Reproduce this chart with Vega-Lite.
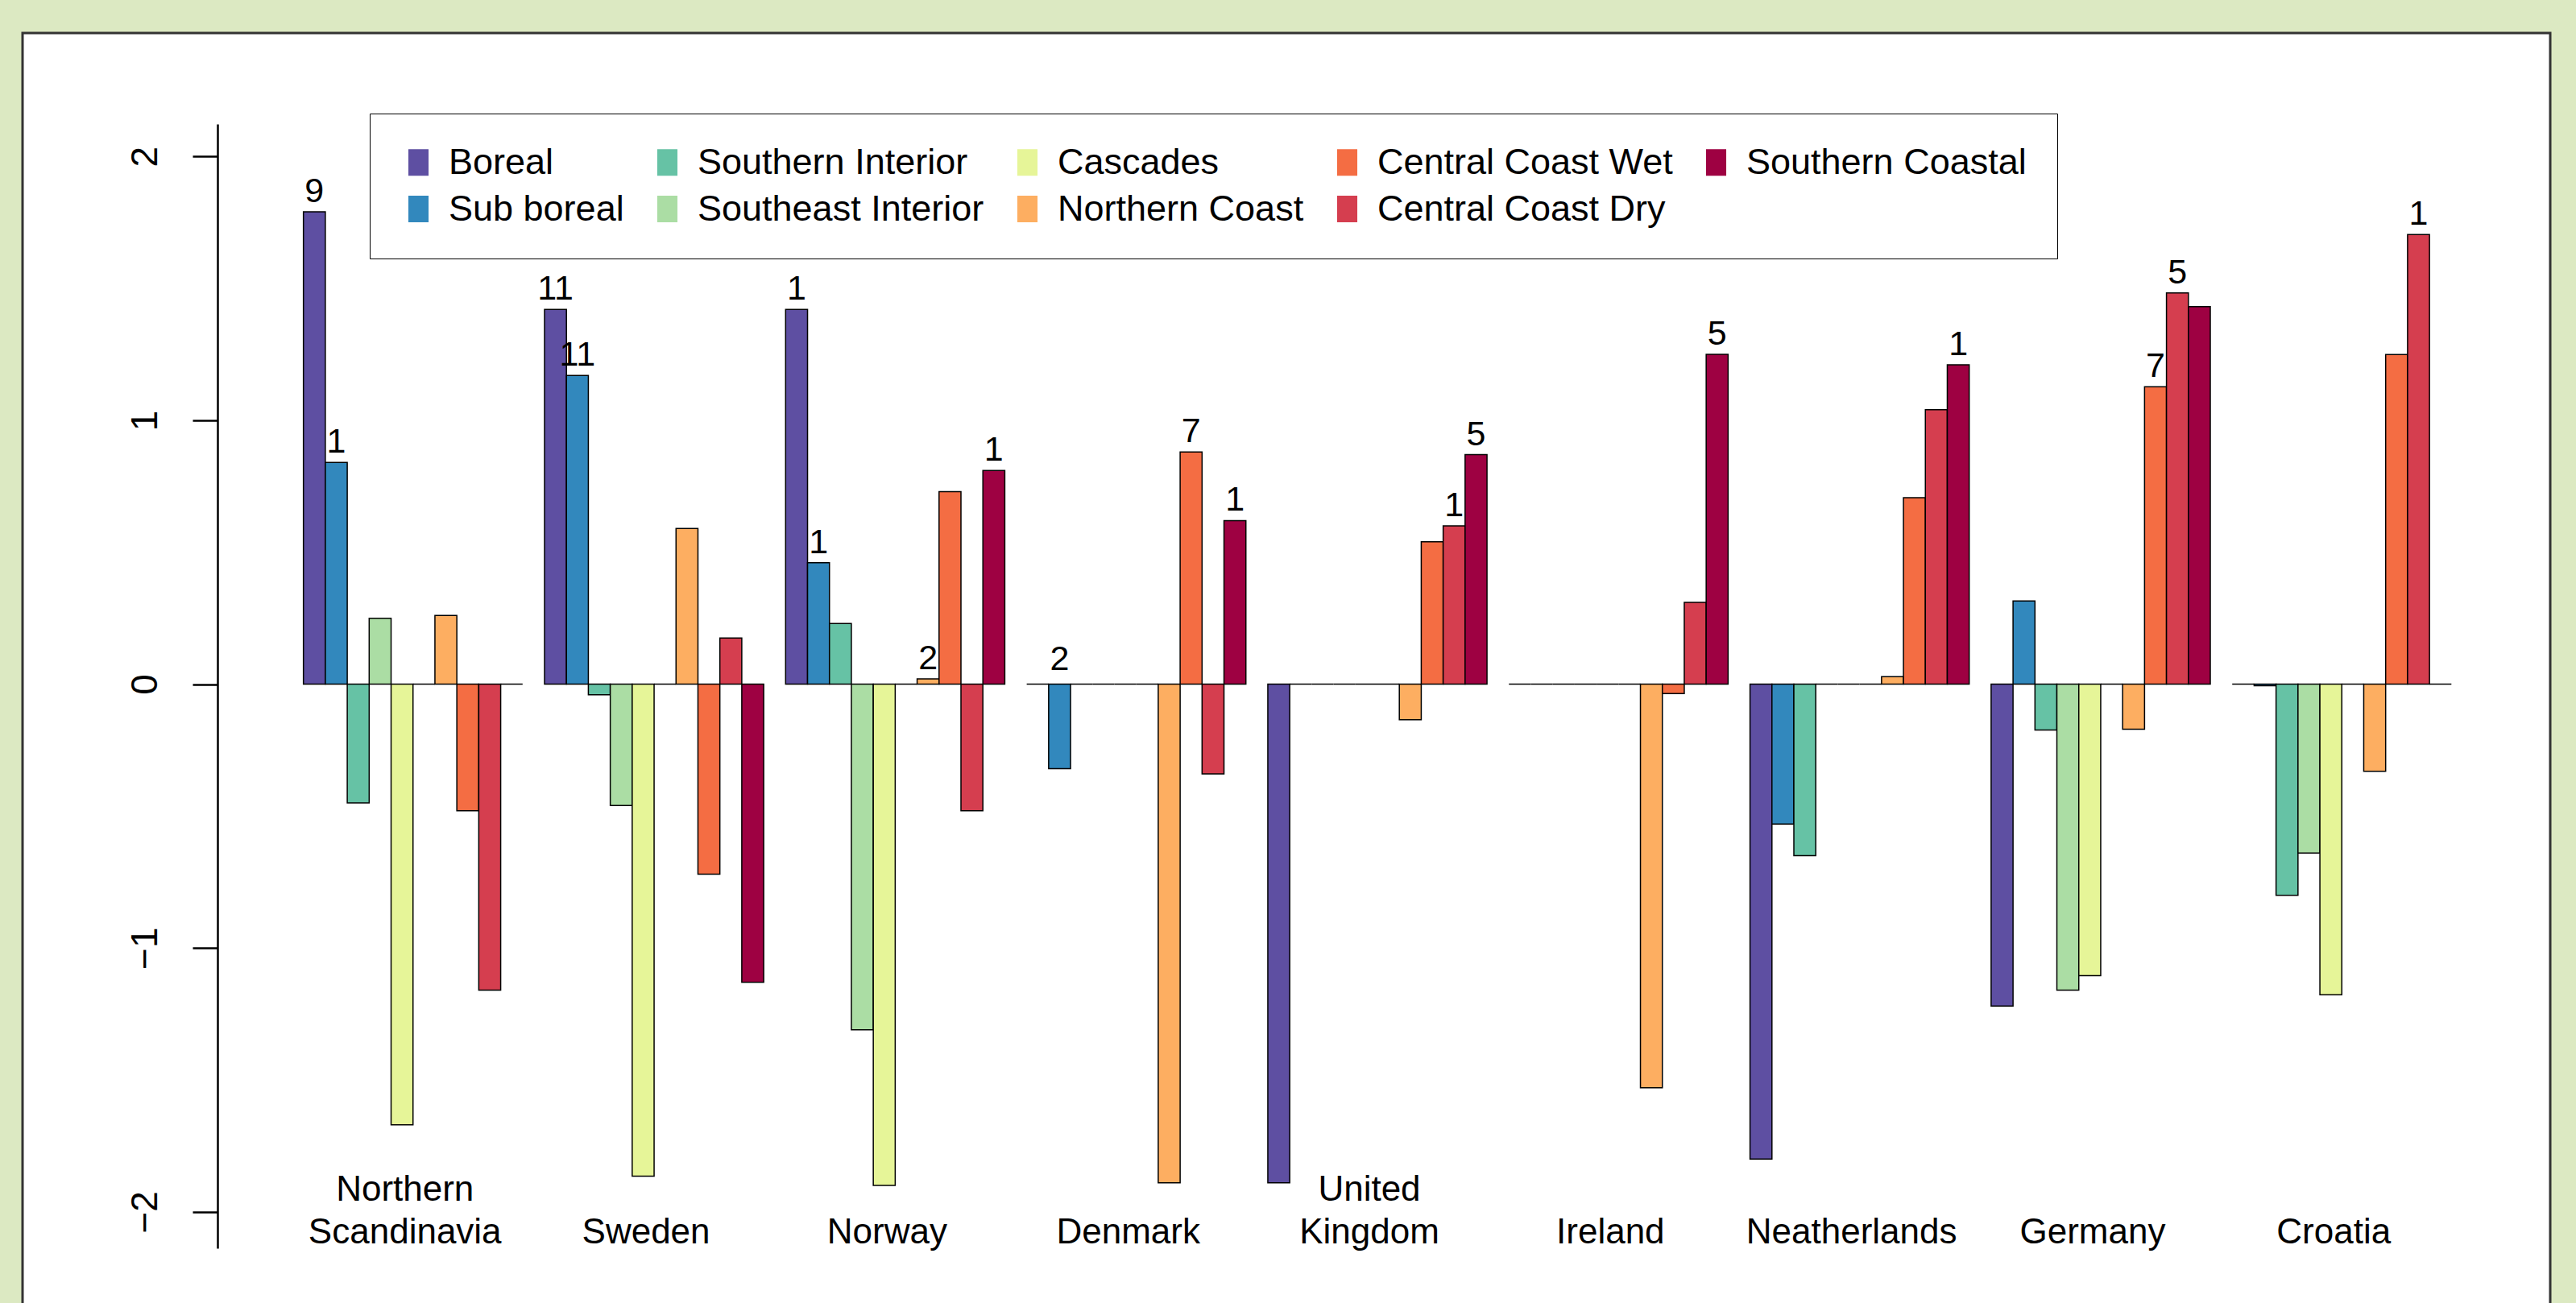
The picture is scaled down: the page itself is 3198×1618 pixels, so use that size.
{
  "$schema": "https://vega.github.io/schema/vega-lite/v6.json",
  "width": 3138,
  "height": 1600,
  "autosize": {"type": "none"},
  "padding": {"left": 28, "top": 41, "right": 32, "bottom": -23},
  "background": "#dce9c2",
  "view": {"fill": "white", "stroke": "#333333", "strokeWidth": 3},
  "config": {"font": "Liberation Sans", "text": {"font": "Liberation Sans"}},
  "data": {
    "values": [
      {"country": "Northern Scandinavia", "zone": "Boreal", "value": 1.79, "label": "9"},
      {"country": "Northern Scandinavia", "zone": "Sub boreal", "value": 0.84, "label": "1"},
      {"country": "Northern Scandinavia", "zone": "Southern Interior", "value": -0.45},
      {"country": "Northern Scandinavia", "zone": "Southeast Interior", "value": 0.25},
      {"country": "Northern Scandinavia", "zone": "Cascades", "value": -1.67},
      {"country": "Northern Scandinavia", "zone": "Unlisted", "value": 0},
      {"country": "Northern Scandinavia", "zone": "Northern Coast", "value": 0.26},
      {"country": "Northern Scandinavia", "zone": "Central Coast Wet", "value": -0.48},
      {"country": "Northern Scandinavia", "zone": "Central Coast Dry", "value": -1.16},
      {"country": "Northern Scandinavia", "zone": "Southern Coastal", "value": 0},

      {"country": "Sweden", "zone": "Boreal", "value": 1.42, "label": "11"},
      {"country": "Sweden", "zone": "Sub boreal", "value": 1.17, "label": "11"},
      {"country": "Sweden", "zone": "Southern Interior", "value": -0.04},
      {"country": "Sweden", "zone": "Southeast Interior", "value": -0.46},
      {"country": "Sweden", "zone": "Cascades", "value": -1.865},
      {"country": "Sweden", "zone": "Unlisted", "value": 0},
      {"country": "Sweden", "zone": "Northern Coast", "value": 0.59},
      {"country": "Sweden", "zone": "Central Coast Wet", "value": -0.72},
      {"country": "Sweden", "zone": "Central Coast Dry", "value": 0.175},
      {"country": "Sweden", "zone": "Southern Coastal", "value": -1.13},

      {"country": "Norway", "zone": "Boreal", "value": 1.42, "label": "1"},
      {"country": "Norway", "zone": "Sub boreal", "value": 0.46, "label": "1"},
      {"country": "Norway", "zone": "Southern Interior", "value": 0.23},
      {"country": "Norway", "zone": "Southeast Interior", "value": -1.31},
      {"country": "Norway", "zone": "Cascades", "value": -1.9},
      {"country": "Norway", "zone": "Unlisted", "value": 0},
      {"country": "Norway", "zone": "Northern Coast", "value": 0.02, "label": "2"},
      {"country": "Norway", "zone": "Central Coast Wet", "value": 0.73},
      {"country": "Norway", "zone": "Central Coast Dry", "value": -0.48},
      {"country": "Norway", "zone": "Southern Coastal", "value": 0.81, "label": "1"},

      {"country": "Denmark", "zone": "Boreal", "value": 0},
      {"country": "Denmark", "zone": "Sub boreal", "value": -0.32, "label": "2"},
      {"country": "Denmark", "zone": "Southern Interior", "value": 0},
      {"country": "Denmark", "zone": "Southeast Interior", "value": 0},
      {"country": "Denmark", "zone": "Cascades", "value": 0},
      {"country": "Denmark", "zone": "Unlisted", "value": 0},
      {"country": "Denmark", "zone": "Northern Coast", "value": -1.89},
      {"country": "Denmark", "zone": "Central Coast Wet", "value": 0.88, "label": "7"},
      {"country": "Denmark", "zone": "Central Coast Dry", "value": -0.34},
      {"country": "Denmark", "zone": "Southern Coastal", "value": 0.62, "label": "1"},

      {"country": "United Kingdom", "zone": "Boreal", "value": -1.89},
      {"country": "United Kingdom", "zone": "Sub boreal", "value": 0},
      {"country": "United Kingdom", "zone": "Southern Interior", "value": 0},
      {"country": "United Kingdom", "zone": "Southeast Interior", "value": 0},
      {"country": "United Kingdom", "zone": "Cascades", "value": 0},
      {"country": "United Kingdom", "zone": "Unlisted", "value": 0},
      {"country": "United Kingdom", "zone": "Northern Coast", "value": -0.135},
      {"country": "United Kingdom", "zone": "Central Coast Wet", "value": 0.54},
      {"country": "United Kingdom", "zone": "Central Coast Dry", "value": 0.6, "label": "1"},
      {"country": "United Kingdom", "zone": "Southern Coastal", "value": 0.87, "label": "5"},

      {"country": "Ireland", "zone": "Boreal", "value": 0},
      {"country": "Ireland", "zone": "Sub boreal", "value": 0},
      {"country": "Ireland", "zone": "Southern Interior", "value": 0},
      {"country": "Ireland", "zone": "Southeast Interior", "value": 0},
      {"country": "Ireland", "zone": "Cascades", "value": 0},
      {"country": "Ireland", "zone": "Unlisted", "value": 0},
      {"country": "Ireland", "zone": "Northern Coast", "value": -1.53},
      {"country": "Ireland", "zone": "Central Coast Wet", "value": -0.036},
      {"country": "Ireland", "zone": "Central Coast Dry", "value": 0.31},
      {"country": "Ireland", "zone": "Southern Coastal", "value": 1.25, "label": "5"},

      {"country": "Neatherlands", "zone": "Boreal", "value": -1.8},
      {"country": "Neatherlands", "zone": "Sub boreal", "value": -0.53},
      {"country": "Neatherlands", "zone": "Southern Interior", "value": -0.65},
      {"country": "Neatherlands", "zone": "Southeast Interior", "value": 0},
      {"country": "Neatherlands", "zone": "Cascades", "value": 0},
      {"country": "Neatherlands", "zone": "Unlisted", "value": 0},
      {"country": "Neatherlands", "zone": "Northern Coast", "value": 0.028},
      {"country": "Neatherlands", "zone": "Central Coast Wet", "value": 0.707},
      {"country": "Neatherlands", "zone": "Central Coast Dry", "value": 1.04},
      {"country": "Neatherlands", "zone": "Southern Coastal", "value": 1.21, "label": "1"},

      {"country": "Germany", "zone": "Boreal", "value": -1.22},
      {"country": "Germany", "zone": "Sub boreal", "value": 0.315},
      {"country": "Germany", "zone": "Southern Interior", "value": -0.174},
      {"country": "Germany", "zone": "Southeast Interior", "value": -1.16},
      {"country": "Germany", "zone": "Cascades", "value": -1.105},
      {"country": "Germany", "zone": "Unlisted", "value": 0},
      {"country": "Germany", "zone": "Northern Coast", "value": -0.171},
      {"country": "Germany", "zone": "Central Coast Wet", "value": 1.127, "label": "7"},
      {"country": "Germany", "zone": "Central Coast Dry", "value": 1.483, "label": "5"},
      {"country": "Germany", "zone": "Southern Coastal", "value": 1.431},

      {"country": "Croatia", "zone": "Boreal", "value": 0},
      {"country": "Croatia", "zone": "Sub boreal", "value": -0.006},
      {"country": "Croatia", "zone": "Southern Interior", "value": -0.8},
      {"country": "Croatia", "zone": "Southeast Interior", "value": -0.64},
      {"country": "Croatia", "zone": "Cascades", "value": -1.177},
      {"country": "Croatia", "zone": "Unlisted", "value": 0},
      {"country": "Croatia", "zone": "Northern Coast", "value": -0.33},
      {"country": "Croatia", "zone": "Central Coast Wet", "value": 1.249},
      {"country": "Croatia", "zone": "Central Coast Dry", "value": 1.704, "label": "1"},
      {"country": "Croatia", "zone": "Southern Coastal", "value": 0}
    ]
  },
  "encoding": {
    "x": {
      "field": "country",
      "type": "nominal",
      "scale": {
        "domain": ["Northern Scandinavia", "Sweden", "Norway", "Denmark", "United Kingdom", "Ireland", "Neatherlands", "Germany", "Croatia"],
        "range": [242, 3122],
        "paddingInner": 0.0909,
        "paddingOuter": 0.3564
      },
      "axis": {
        "orient": "bottom",
        "offset": -142,
        "title": null,
        "ticks": false,
        "domain": false,
        "labelAngle": 0,
        "labelPadding": 0,
        "labelBaseline": "bottom",
        "labelFontSize": 44,
        "labelLineHeight": 53.7,
        "labelColor": "black",
        "labelOffset": -10,
        "labelLimit": 0,
        "labelExpr": "indexof(datum.label, ' ') > 0 ? split(datum.label, ' ') : ['', datum.label]"
      }
    },
    "xOffset": {
      "field": "zone",
      "type": "nominal",
      "scale": {
        "domain": ["Boreal", "Sub boreal", "Southern Interior", "Southeast Interior", "Cascades", "Unlisted", "Northern Coast", "Central Coast Wet", "Central Coast Dry", "Southern Coastal"],
        "paddingInner": 0,
        "paddingOuter": 0
      }
    },
    "y": {
      "field": "value",
      "type": "quantitative",
      "scale": {"domain": [-2.138, 2.123], "range": [1509, 113], "nice": false, "zero": false},
      "axis": {
        "orient": "left",
        "offset": -242,
        "title": null,
        "grid": false,
        "values": [-2, -1, 0, 1, 2],
        "format": "d",
        "domainColor": "black",
        "domainWidth": 2.5,
        "tickColor": "black",
        "tickWidth": 2.5,
        "tickSize": 31,
        "labelAngle": 270,
        "labelAlign": "center",
        "labelBaseline": "bottom",
        "labelPadding": 35,
        "labelFontSize": 46,
        "labelColor": "black",
        "labelFlush": false,
        "labelOverlap": false
      }
    }
  },
  "layer": [
    {
      "mark": {"type": "bar", "stroke": "black", "strokeWidth": 1.5},
      "encoding": {
        "y2": {"datum": 0},
        "color": {
          "field": "zone",
          "type": "nominal",
          "scale": {
            "domain": ["Boreal", "Sub boreal", "Southern Interior", "Southeast Interior", "Cascades", "Unlisted", "Northern Coast", "Central Coast Wet", "Central Coast Dry", "Southern Coastal"],
            "range": ["#5e4fa2", "#3288bd", "#66c2a5", "#abdda4", "#e6f598", "#fee08b", "#fdae61", "#f46d43", "#d53e4f", "#9e0142"]
          },
          "legend": {
            "title": null,
            "orient": "none",
            "legendX": 431,
            "legendY": 100,
            "columns": 5,
            "values": ["Boreal", "Sub boreal", "Southern Interior", "Southeast Interior", "Cascades", "Northern Coast", "Central Coast Wet", "Central Coast Dry", "Southern Coastal"],
            "symbolType": "M-0.76,-1H0.76V1H-0.76Z",
            "symbolSize": 1089,
            "symbolStrokeWidth": 0,
            "symbolOpacity": 1,
            "labelFontSize": 45,
            "labelColor": "black",
            "labelOffset": 15,
            "labelLimit": 0,
            "columnPadding": 31,
            "rowPadding": 12,
            "padding": 38,
            "strokeColor": "black",
            "fillColor": "white"
          }
        }
      }
    },
    {
      "transform": [{"filter": "datum.label != null && datum.value > 0"}],
      "mark": {"type": "text", "baseline": "alphabetic", "dy": -12, "fontSize": 43, "color": "black"},
      "encoding": {"text": {"field": "label"}}
    },
    {
      "transform": [{"filter": "datum.label != null && datum.value <= 0"}],
      "mark": {"type": "text", "baseline": "alphabetic", "dy": -18, "fontSize": 43, "color": "black"},
      "encoding": {"text": {"field": "label"}, "y": {"datum": 0}}
    }
  ]
}
